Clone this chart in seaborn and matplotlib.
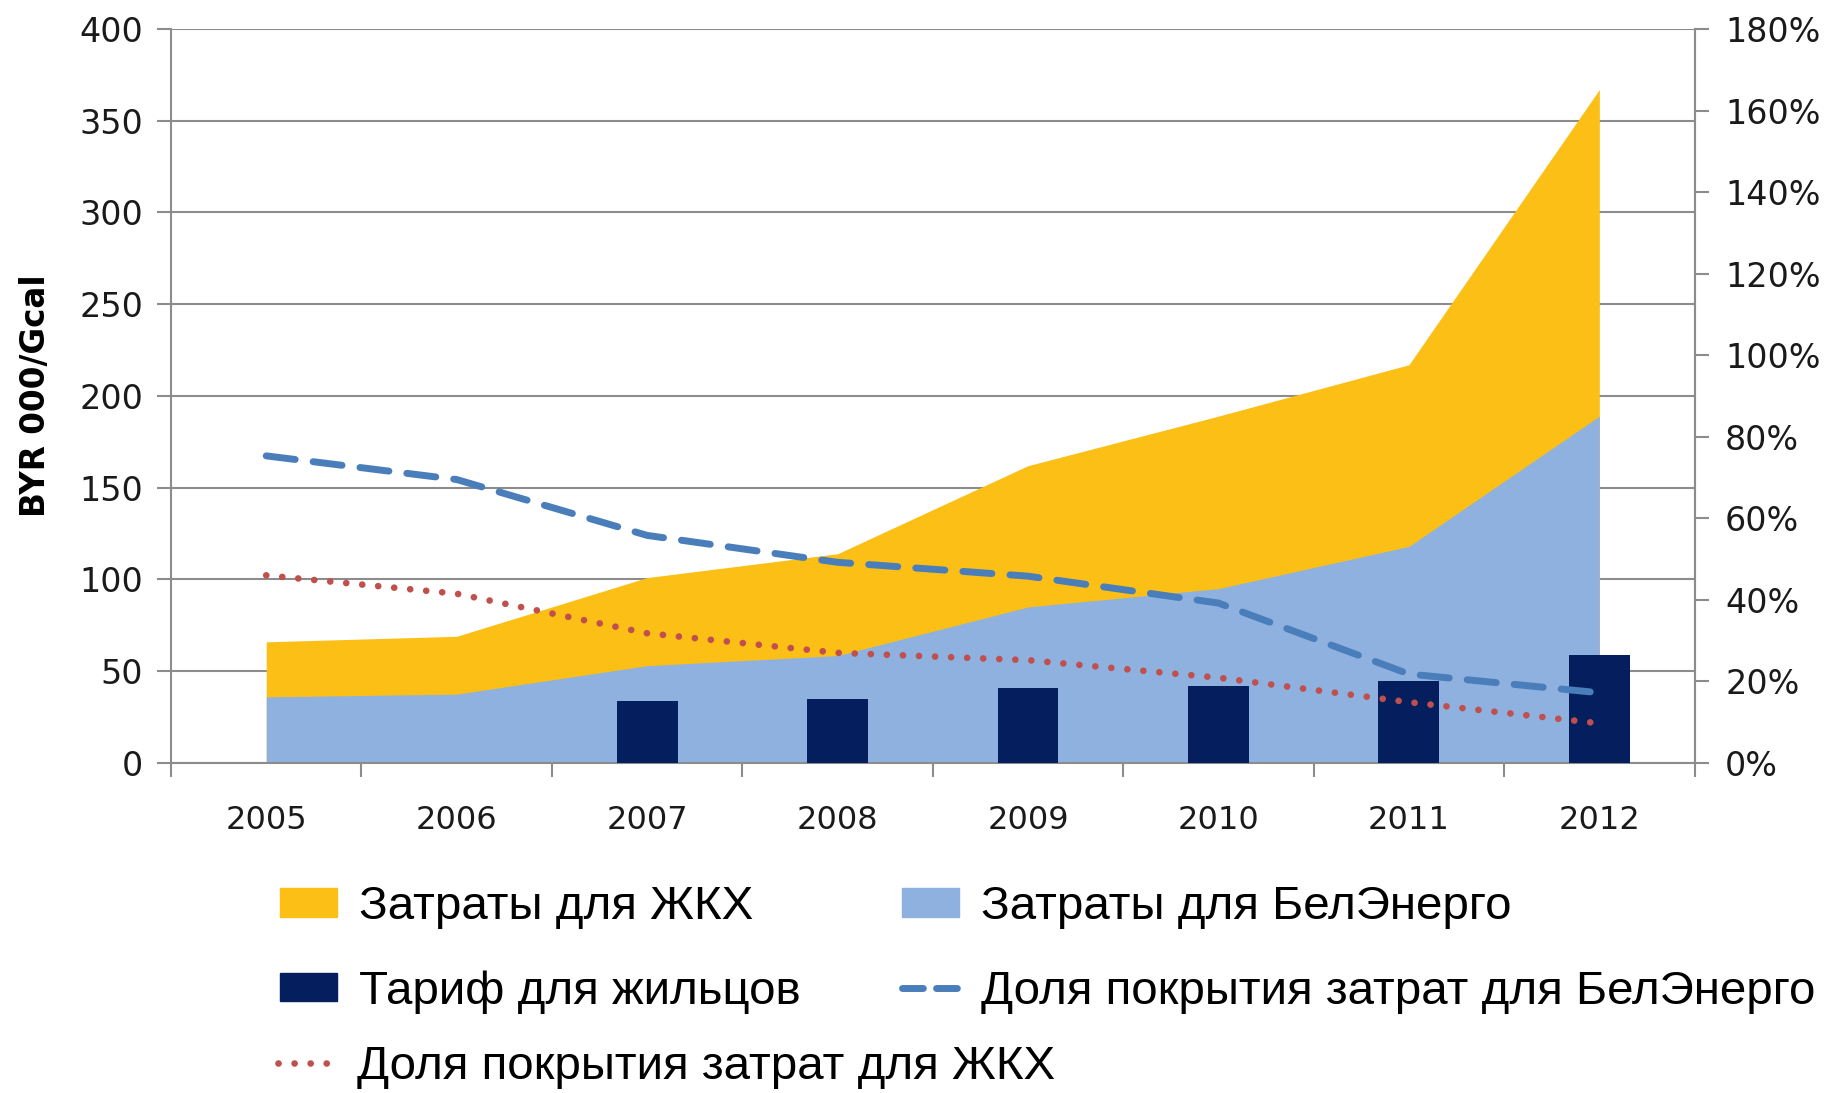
# -*- coding: utf-8 -*-
"""Затраты на тепло и доля их покрытия тарифом, 2005-2012."""

import matplotlib
matplotlib.use("Agg")
import matplotlib.pyplot as plt
import seaborn as sns
import pandas as pd
import numpy as np
from matplotlib.patches import Patch
from matplotlib.lines import Line2D

sns.set_theme(style="white")
plt.rcParams["font.family"] = ["DejaVu Sans"]
plt.rcParams["text.color"] = "black"

# ── данные ────────────────────────────────────────────────────────────────
years = ["2005", "2006", "2007", "2008", "2009", "2010", "2011", "2012"]
cost_zhkh = [66, 69, 101, 114, 162, 189, 217, 367]
cost_belenergo = [36, 37.5, 53, 58.5, 85, 95, 118, 189]
tariff_years = ["2007", "2008", "2009", "2010", "2011", "2012"]
tariff = [33.7, 35, 40.7, 42, 44.5, 59]
share_belenergo = [75.3, 69.5, 55.8, 49.2, 45.8, 39.2, 21.8, 17.2]
share_zhkh = [46, 41.5, 31.8, 27, 25.2, 20.9, 14.9, 9.7]

lab_zhkh = "Затраты для ЖКХ"
lab_bel = "Затраты для БелЭнерго"
lab_tar = "Тариф для жильцов"
lab_sh_bel = "Доля покрытия затрат для БелЭнерго"
lab_sh_zhkh = "Доля покрытия затрат для ЖКХ"

C_YEL, C_LBLUE, C_NAVY = "#FCBF16", "#8EB1E0", "#041E5E"
C_DASH, C_DOT, C_GRID = "#4A7EBB", "#C0504D", "#8C8C8C"
DASH = (0, (4.2, 2.6))
DOT = (0, (0.01, 2.4))

fig = plt.figure(figsize=(18.29, 10.93), dpi=100)
ax = fig.add_axes([0.0935, 0.302, 0.833, 0.6715])

x = np.arange(len(years))
ax.fill_between(x, 0, cost_zhkh, color=C_YEL, lw=0, zorder=1)
ax.fill_between(x, 0, cost_belenergo, color=C_LBLUE, lw=0, zorder=2)

df_bar = pd.DataFrame({"year": tariff_years, "val": tariff})
sns.barplot(data=df_bar, x="year", y="val", order=years, color=C_NAVY,
            saturation=1, width=0.32, linewidth=0, ax=ax, zorder=3)

ax.set_xlim(-0.5, len(years) - 0.5)
ax.set_ylim(0, 400)
ax.set_yticks(range(0, 401, 50))
ax.set_xticks(x)
ax.set_xticklabels(years)
ax.set_xticks(np.arange(-0.5, len(years)), minor=True)
ax.tick_params(axis="x", which="major", length=0, pad=30, labelsize=23,
               labelcolor="#1a1a1a")
ax.tick_params(axis="x", which="minor", length=10, color=C_GRID, width=1.5,
               direction="out", bottom=True)
ax.tick_params(axis="y", length=10, color=C_GRID, width=1.5, direction="out",
               left=True, labelsize=24, pad=10, labelcolor="#1a1a1a")
ax.yaxis.grid(True, color=C_GRID, lw=1.5)
ax.set_axisbelow(True)
ax.spines["top"].set_visible(False)
for s in ["left", "bottom", "right"]:
    ax.spines[s].set_color(C_GRID)
    ax.spines[s].set_linewidth(1.5)
ax.set_xlabel("")
ax.set_ylabel("BYR 000/Gcal", fontsize=23.5, fontweight="bold", labelpad=20,
              color="black")

ax2 = ax.twinx()
df_ln = pd.DataFrame({"x": x, "bel": share_belenergo, "zhkh": share_zhkh})
sns.lineplot(data=df_ln, x="x", y="bel", ax=ax2, color=C_DASH, lw=5,
             zorder=5)
ax2.lines[-1].set_linestyle(DASH)
ax2.lines[-1].set_dash_capstyle("round")
sns.lineplot(data=df_ln, x="x", y="zhkh", ax=ax2, color=C_DOT, lw=4.8,
             zorder=5)
ax2.lines[-1].set_linestyle(DOT)
ax2.lines[-1].set_dash_capstyle("round")
ax2.set_ylim(0, 180)
ax2.set_yticks(range(0, 181, 20))
ax2.set_yticklabels([f"{v}%" for v in range(0, 181, 20)])
ax2.tick_params(axis="y", length=10, color=C_GRID, width=1.5, direction="out",
                right=True, labelsize=24, pad=12, labelcolor="#1a1a1a")
ax2.set_xlim(-0.5, len(years) - 0.5)
ax2.set_xlabel("")
ax2.set_ylabel("")
for s in ["top", "left", "bottom"]:
    ax2.spines[s].set_visible(False)
ax2.spines["right"].set_color(C_GRID)
ax2.spines["right"].set_linewidth(1.5)

# ── легенда: две колонки + отдельная строка ──────────────────────────────
leg_kw = dict(frameon=False, loc="center left", borderaxespad=0, borderpad=0,
              prop={"family": "Liberation Sans", "size": 34.2},
              handlelength=1.2, handleheight=0.55, handletextpad=0.47,
              labelspacing=0.85, labelcolor="black")
col1 = [Patch(color=C_YEL, label=lab_zhkh), Patch(color=C_NAVY, label=lab_tar)]
col2 = [Patch(color=C_LBLUE, label=lab_bel),
        Line2D([], [], color=C_DASH, lw=5, ls=(0, (3.0, 1.9)),
               dash_capstyle="round", label=lab_sh_bel)]
row3 = [Line2D([], [], color=C_DOT, lw=4.8, ls=DOT, dash_capstyle="round",
               label=lab_sh_zhkh)]
fig.legend(handles=col1, bbox_to_anchor=(0.153, 0.1313), **leg_kw)
fig.legend(handles=col2, bbox_to_anchor=(0.493, 0.1313), **leg_kw)
fig.legend(handles=row3, bbox_to_anchor=(0.152, 0.0238), **leg_kw)

fig.savefig("out.png", dpi=100)
